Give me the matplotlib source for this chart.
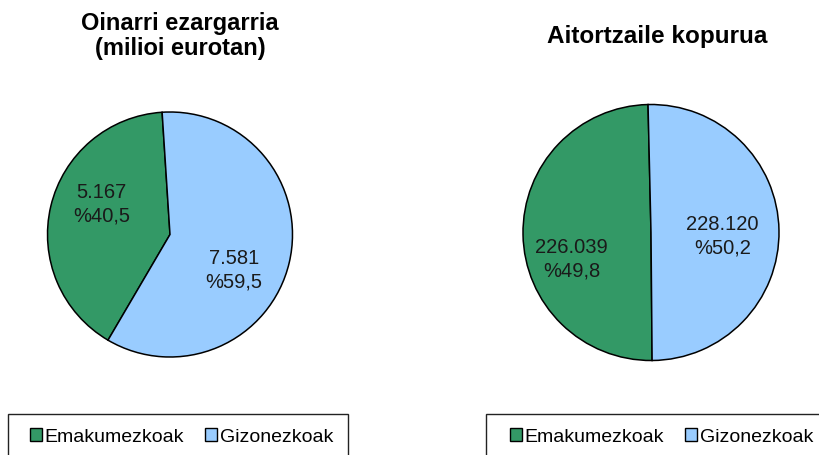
import matplotlib
matplotlib.use("Agg")
import matplotlib.pyplot as plt
from matplotlib.patches import Patch, Rectangle

plt.rcParams['font.family'] = ['Liberation Sans', 'DejaVu Sans']

# Data
categories = ["Emakumezkoak", "Gizonezkoak"]
base_values = [5167, 7581]          # milioi eurotan
base_labels = ["5.167\n%40,5", "7.581\n%59,5"]
count_values = [226039, 228120]     # aitortzaile kopurua
count_labels = ["226.039\n%49,8", "228.120\n%50,2"]

colors = ["#339966", "#99CCFF"]
W, H = 820, 455

fig = plt.figure(figsize=(W / 100, H / 100), dpi=100)
fig.patch.set_facecolor("white")


def pie_axes(cx, cy, r, pad=1.04):
    # axes in pixel units around the pie centre
    s = r * pad
    return fig.add_axes([(cx - s) / W, 1 - (cy + s) / H, 2 * s / W, 2 * s / H])


def draw_pie(ax, values, labels, start, label_pos):
    wedges, _ = ax.pie(values, colors=colors, startangle=start, counterclock=False,
                       wedgeprops=dict(edgecolor="black", linewidth=1.1))
    for (x, y), txt in zip(label_pos, labels):
        ax.text(x, y, txt, ha="center", va="center", fontsize=14.5,
                color="#1a1a1a", linespacing=1.3)
    ax.set_xlim(-1.04, 1.04)
    ax.set_ylim(-1.04, 1.04)
    ax.set_aspect("equal")
    return wedges


# left pie
ax1 = pie_axes(170, 234.5, 122.5)
wedges = draw_pie(ax1, base_values, base_labels, -120.4,
                  [(-0.56, 0.25), (0.52, -0.29)])
fig.text(180 / W, 1 - 36 / H, "Oinarri ezargarria\n(milioi eurotan)", ha="center",
         va="center", fontsize=17, fontweight="bold", linespacing=1.1)

# right pie
ax2 = pie_axes(651, 232.5, 128)
draw_pie(ax2, count_values, count_labels, -89.5,
         [(-0.62, -0.21), (0.56, -0.03)])
fig.text(657 / W, 1 - 37 / H, "Aitortzaile kopurua", ha="center", va="center",
         fontsize=17.5, fontweight="bold")

# legends (frame drawn separately, runs off the bottom edge)
handles = [Patch(facecolor=c, edgecolor="black", linewidth=1.0) for c in colors]
for box_x, box_w, hx in [(8, 340, 30), (486, 400, 510)]:
    fig.add_artist(Rectangle((box_x / W, -0.1), box_w / W, 0.1 + 1 - 414 / H,
                             transform=fig.transFigure, fill=False,
                             edgecolor="#222222", linewidth=1.0))
    fig.legend(handles, categories, loc="center left",
               bbox_to_anchor=(hx / W, 1 - 437 / H), ncol=2, frameon=False,
               fontsize=14, handlelength=0.62, handleheight=0.62,
               handletextpad=0.12, columnspacing=1.1, borderpad=0,
               borderaxespad=0)

plt.savefig("out.png", dpi=100, facecolor="white")
